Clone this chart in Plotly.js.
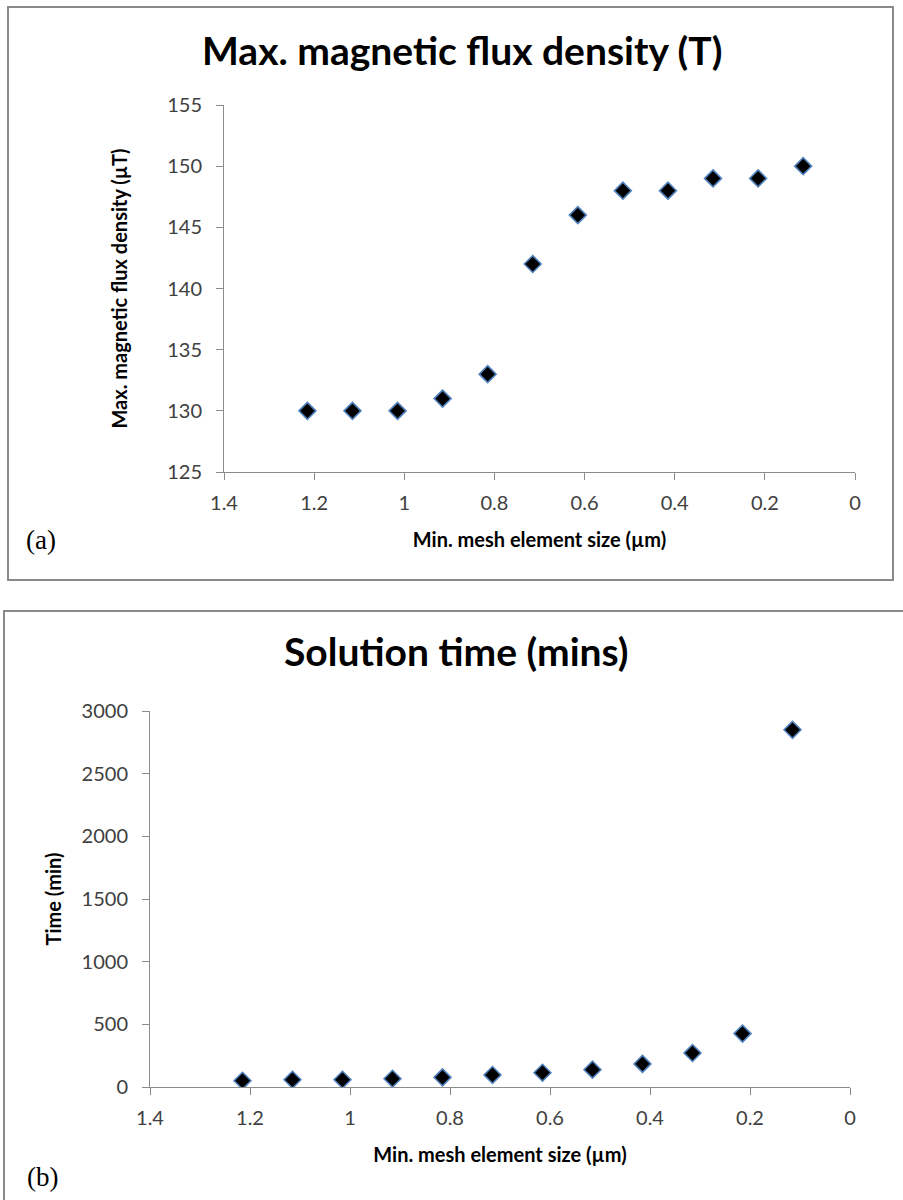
<!DOCTYPE html>
<html>
<head>
<meta charset="utf-8">
<script src="https://cdn.plot.ly/plotly-3.0.1.min.js"></script>
<style>html,body{margin:0;padding:0;background:#fff}#chart{width:903px;height:1200px}</style>
</head>
<body>
<div id="chart"></div>
<script>
// Shared x values: minimum mesh element size (µm)
const meshSize = [1.215, 1.115, 1.015, 0.915, 0.815, 0.715, 0.615, 0.515, 0.415, 0.315, 0.215, 0.115];
// (a) Max. magnetic flux density (µT)
const fluxDensity = [130, 130, 130, 131, 133, 142, 146, 148, 148, 149, 149, 150];
// (b) Solution time (min)
const solutionTime = [50, 58, 58, 66, 77, 96, 114, 138, 184, 271, 426, 2850];

const titleA = 'Max. magnetic flux density (T)';
const titleB = 'Solution time (mins)';
const xTitle = 'Min. mesh element size (µm)';
const yTitleA = 'Max. magnetic flux density (µT)';
const yTitleB = 'Time (min)';

const W = 903, H = 1200;
const px = v => v / W;
const py = v => 1 - v / H;

const marker = {symbol: 'diamond', size: 13, color: '#000000', line: {color: '#4F81BD', width: 1.6}};

const traces = [
  {x: meshSize, y: fluxDensity, type: 'scatter', mode: 'markers', marker: marker, xaxis: 'x', yaxis: 'y', hoverinfo: 'x+y'},
  {x: meshSize, y: solutionTime, type: 'scatter', mode: 'markers', marker: marker, xaxis: 'x2', yaxis: 'y2', hoverinfo: 'x+y'}
];

const FONT = 'Lato, "Open Sans", sans-serif';
const tickFont = {family: FONT, size: 20, color: '#404040'};
const axTitleFont = {family: FONT, size: 20, color: '#000', weight: 'bold'};

function xAx(domain, anchor) {
  return {
    domain: domain, anchor: anchor, range: [1.4, 0], dtick: 0.2, tick0: 0,
    showgrid: false, zeroline: false, showline: true, linecolor: '#8c8c8c', linewidth: 1,
    ticks: 'outside', ticklen: 7, tickcolor: '#8c8c8c', tickfont: tickFont,
    ticklabelstandoff: 6,
    title: {text: xTitle, font: axTitleFont, standoff: 19}
  };
}

function yAx(domain, anchor, range, dtick, title, standoff) {
  return {
    domain: domain, anchor: anchor, range: range, dtick: dtick,
    showgrid: false, zeroline: false, showline: true, linecolor: '#8c8c8c', linewidth: 1,
    ticks: 'outside', ticklen: 7, tickcolor: '#8c8c8c', tickfont: tickFont,
    ticklabelstandoff: 10,
    title: {text: title, font: axTitleFont, standoff: standoff}
  };
}

const layout = {
  width: W, height: H,
  margin: {l: 0, r: 0, t: 0, b: 0},
  paper_bgcolor: '#fff', plot_bgcolor: '#fff',
  showlegend: false,
  xaxis: xAx([px(224), px(855)], 'y'),
  yaxis: yAx([py(472), py(105)], 'x', [125, 155], 5, yTitleA, 34),
  xaxis2: xAx([px(150), px(850)], 'y2'),
  yaxis2: yAx([py(1087), py(711)], 'x2', [0, 3000], 500, yTitleB, 14),
  shapes: [
    {type: 'rect', xref: 'paper', yref: 'paper', x0: px(8), x1: px(893), y0: py(580), y1: py(7), line: {color: '#8a8a8a', width: 2}},
    {type: 'rect', xref: 'paper', yref: 'paper', x0: px(4), x1: px(912), y0: py(1210), y1: py(611), line: {color: '#8a8a8a', width: 2}}
  ],
  annotations: [
    {text: titleA, xref: 'paper', yref: 'paper', x: px(462), y: py(50), xanchor: 'center', yanchor: 'middle', showarrow: false,
     font: {family: FONT, size: 39, color: '#000', weight: 'bold'}},
    {text: titleB, xref: 'paper', yref: 'paper', x: px(456), y: py(651), xanchor: 'center', yanchor: 'middle', showarrow: false,
     font: {family: FONT, size: 39, color: '#000', weight: 'bold'}},
    {text: '(a)', xref: 'paper', yref: 'paper', x: px(24), y: py(540), xanchor: 'left', yanchor: 'middle', showarrow: false,
     font: {family: '"Liberation Serif", "DejaVu Serif", serif', size: 27, color: '#000'}},
    {text: '(b)', xref: 'paper', yref: 'paper', x: px(25), y: py(1177), xanchor: 'left', yanchor: 'middle', showarrow: false,
     font: {family: '"Liberation Serif", "DejaVu Serif", serif', size: 27, color: '#000'}}
  ]
};

Plotly.newPlot('chart', traces, layout, {staticPlot: true, displayModeBar: false});
</script>
</body>
</html>
